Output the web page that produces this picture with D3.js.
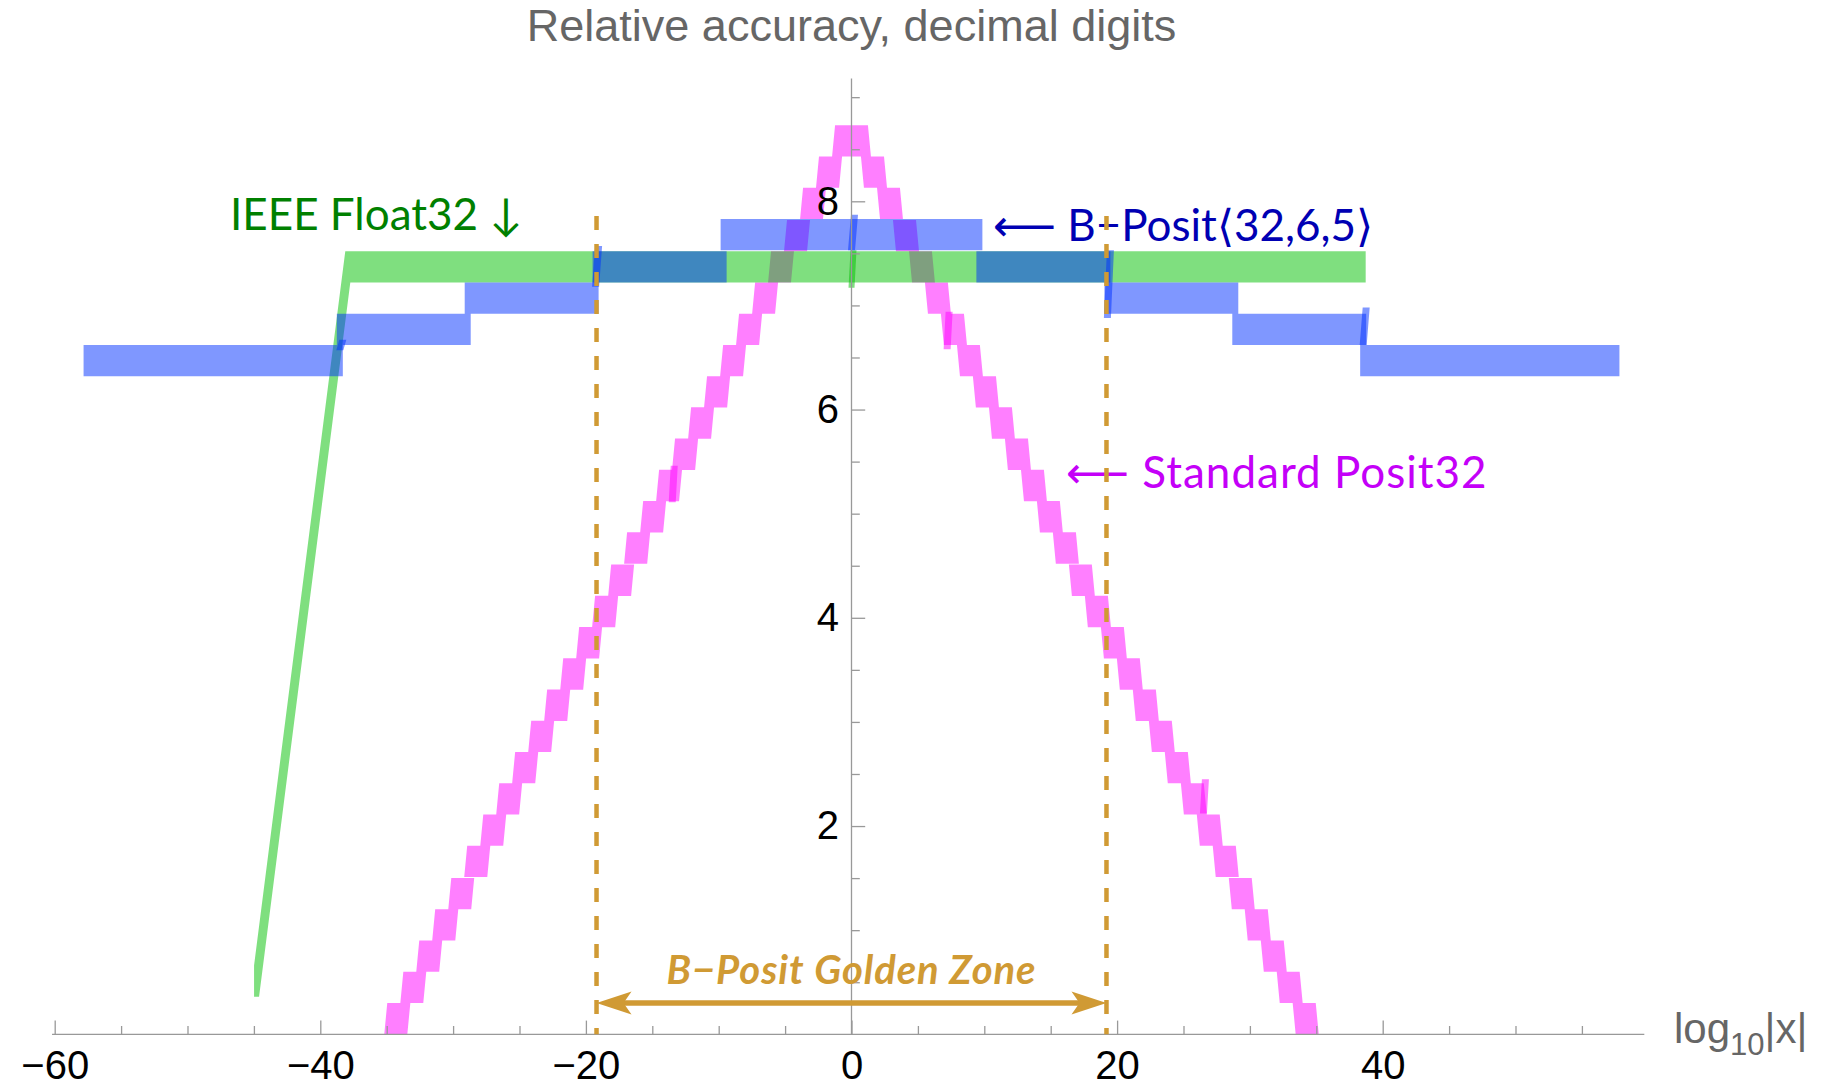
<!DOCTYPE html>
<html>
<head>
<meta charset="utf-8">
<script src="https://cdn.jsdelivr.net/npm/d3@7"></script>
<style>
  body { margin: 0; background: #fff; }
  svg { display: block; }
</style>
</head>
<body>
<svg width="1823" height="1088"></svg>
<script>
// x = log10|x|, y = decimal digits of relative accuracy
// every curve is a band one binade tall (log10 2 digits), given by its lower edge
var bandHeight = 0.301;

// standard posit32, right half (left half mirrors it)
var posit32Edges = [0, 1.2, 2.41, 3.61, 4.82, 6.02, 7.22, 8.43, 9.63, 10.84, 12.04, 13.25, 14.45, 15.65, 16.86,
                    18.06, 19.27, 20.47, 21.67, 22.88, 24.08, 25.29, 26.49, 27.69, 28.9, 30.1, 31.31, 32.51, 33.71, 34.92];
var posit32Levels = [8.43, 8.13, 7.83, 7.52, 7.22, 6.92, 6.62, 6.32, 6.02, 5.72, 5.42, 5.12, 4.82, 4.52, 4.21,
                     3.91, 3.61, 3.31, 3.01, 2.71, 2.41, 2.11, 1.81, 1.51, 1.2, 0.9, 0.6, 0.3, 0.0];
var posit32Spikes = [[-13.5, 5.11, 5.46], [7.2, 6.58, 6.94], [26.5, 2.12, 2.45]];

// b-posit<32,6,5>, right half
var bposit32Edges = [0, 9.63, 19.27, 28.9, 38.53, 57.6];
var bposit32Levels = [7.53, 7.22, 6.92, 6.62, 6.32];
var bposit32Spikes = [[-38.53, 6.57, 6.67], [-19.27, 7.18, 7.57], [0, 7.53, 7.87], [19.27, 6.88, 7.53], [38.53, 6.62, 6.98]];

// ieee float32: subnormal ramp then flat normal range
var float32Knots = [-44.8, -37.93, 38.53];
var float32Lower = [0.36, 7.22, 7.22];
var float32Spikes = [[0, 7.17, 7.53]];

var goldenZone = [-19.2, 19.2];
var goldenTop = 7.86;
var goldenArrowY = 0.3;

var xMajor = [-60, -40, -20, 0, 20, 40];
var xMinor = [-55, -50, -45, -35, -30, -25, -15, -10, -5, 5, 10, 15, 25, 30, 35, 45, 50, 55];
var yMajor = [2, 4, 6, 8];
var yMinor = [0.5, 1, 1.5, 2.5, 3, 3.5, 4.5, 5, 5.5, 6.5, 7, 7.5, 8.5, 9];

var svg = d3.select("svg");
var x = d3.scaleLinear().domain([-60, 40]).range([54.7, 1382.7]);
var y = d3.scaleLinear().domain([0, 8]).range([1034.3, 201.3]);

function stepSegments(edges, levels) {
  var segs = [];
  levels.forEach(function(lv, i) {
    segs.push([edges[i], edges[i + 1], lv, lv]);
    segs.push([-edges[i + 1], -edges[i], lv, lv]);
  });
  return segs;
}

function bandPath(segs, pad, slant) {
  return segs.map(function(s) {
    var sl = slant * ((s[0] + s[1]) / 2 < 0 ? 1 : -1);
    var x0 = x(s[0]), x1 = x(s[1]);
    var pts = [[x0, y(s[2])], [x1, y(s[3])], [x1 + sl, y(s[3] + bandHeight)], [x0 + sl, y(s[2] + bandHeight)]];
    var grown = [];
    pts.forEach(function(p) { grown.push([p[0] - pad, p[1]], [p[0] + pad, p[1]]); });
    return "M" + d3.polygonHull(grown).join("L") + "Z";
  }).join("");
}

function spikePath(list, w, slant) {
  return list.map(function(s) {
    var cx = x(s[0]);
    return "M" + [[cx - w / 2, y(s[1])], [cx + w / 2, y(s[1])], [cx + w / 2 + slant, y(s[2])], [cx - w / 2 + slant, y(s[2])]].join("L") + "Z";
  }).join("");
}

svg.append("clipPath").attr("id", "plot")
  .append("rect").attr("x", 0).attr("y", y(9.3)).attr("width", 1823).attr("height", y(0) - y(9.3));

var series = svg.append("g").attr("clip-path", "url(#plot)");

// pink first, then green, then blue (matches the colour blends in the picture)
series.append("path").attr("d", bandPath(stepSegments(posit32Edges, posit32Levels), 3.5, 3))
  .attr("fill", "#ff00ff").attr("fill-opacity", 0.5);
series.append("path").attr("d", spikePath(posit32Spikes, 7, 2))
  .attr("fill", "#ff00ff").attr("fill-opacity", 0.5);

var floatSegs = [];
for (var i = 0; i < float32Knots.length - 1; i++) {
  floatSegs.push([float32Knots[i], float32Knots[i + 1], float32Lower[i], float32Lower[i + 1]]);
}
series.append("path").attr("d", bandPath(floatSegs, 2.5, 0))
  .attr("fill", "#00c000").attr("fill-opacity", 0.5);
series.append("path").attr("d", spikePath(float32Spikes, 6, 2))
  .attr("fill", "#00c000").attr("fill-opacity", 0.5);

series.append("path").attr("d", bandPath(stepSegments(bposit32Edges, bposit32Levels), 3, 0))
  .attr("fill", "#0030ff").attr("fill-opacity", 0.5);
series.append("path").attr("d", spikePath(bposit32Spikes, 7, 3))
  .attr("fill", "#0030ff").attr("fill-opacity", 0.5);

// axes
var axisColor = "#999999";
svg.append("line")
  .attr("x1", x(-60.2)).attr("x2", x(59.7)).attr("y1", y(0)).attr("y2", y(0))
  .attr("stroke", axisColor).attr("stroke-width", 1.3);
svg.append("line")
  .attr("x1", x(0)).attr("x2", x(0)).attr("y1", y(0)).attr("y2", y(9.18))
  .attr("stroke", axisColor).attr("stroke-width", 1.3);

var gx = svg.append("g").attr("transform", "translate(0," + y(0) + ")")
  .call(d3.axisBottom(x).tickValues(xMajor).tickSizeInner(-13.7).tickSizeOuter(0).tickPadding(16.5));
var gxm = svg.append("g").attr("transform", "translate(0," + y(0) + ")")
  .call(d3.axisBottom(x).tickValues(xMinor).tickSizeInner(-8.3).tickSizeOuter(0).tickFormat(""));
var gy = svg.append("g").attr("transform", "translate(" + x(0) + ",0)")
  .call(d3.axisLeft(y).tickValues(yMajor).tickSizeInner(-13.7).tickSizeOuter(0).tickPadding(12.5));
var gym = svg.append("g").attr("transform", "translate(" + x(0) + ",0)")
  .call(d3.axisLeft(y).tickValues(yMinor).tickSizeInner(-8.3).tickSizeOuter(0).tickFormat(""));

[gx, gxm, gy, gym].forEach(function(g) {
  g.select(".domain").remove();
  g.selectAll("line").attr("stroke", axisColor).attr("stroke-width", 1.3);
  g.attr("font-family", "'Liberation Sans', Arial, sans-serif").attr("font-size", 40);
  g.selectAll("text").attr("fill", "#000");
});

// title and axis label
svg.append("text")
  .attr("x", x(0)).attr("y", 41)
  .attr("text-anchor", "middle")
  .attr("font-family", "'Liberation Sans', Arial, sans-serif").attr("font-size", 45)
  .attr("fill", "#666")
  .text("Relative accuracy, decimal digits");

var xl = svg.append("text")
  .attr("x", 1674).attr("y", 1043)
  .attr("font-family", "'Liberation Sans', Arial, sans-serif").attr("font-size", 42)
  .attr("fill", "#666");
xl.append("tspan").text("log");
xl.append("tspan").attr("font-size", 31).attr("dy", 12).text("10");
xl.append("tspan").attr("dy", -12).text("|x|");

// series labels
var labelFont = "Lato, 'Noto Sans', 'DejaVu Sans', sans-serif";
svg.append("text")
  .attr("x", 230).attr("y", 230)
  .attr("font-family", labelFont).attr("font-size", 44)
  .attr("fill", "#008000")
  .text("IEEE Float32 \u2193");
svg.append("text")
  .attr("x", 993).attr("y", 240.7)
  .attr("font-family", labelFont).attr("font-size", 44)
  .attr("fill", "#0000b3")
  .text("\u27f5 B\u2212Posit\u27e832,6,5\u27e9");
svg.append("text")
  .attr("x", 1066).attr("y", 488.3)
  .attr("font-family", labelFont).attr("font-size", 44)
  .attr("letter-spacing", 1)
  .attr("fill", "#c400f8")
  .text("\u27f5 Standard Posit32");

// golden zone
var gold = "#d09a34";
goldenZone.forEach(function(v) {
  svg.append("line")
    .attr("x1", x(v)).attr("x2", x(v)).attr("y1", y(goldenTop)).attr("y2", y(0))
    .attr("stroke", gold).attr("stroke-width", 4.5).attr("stroke-dasharray", "14 14");
});

var ay = y(goldenArrowY), headLen = 35, headHalf = 11.5, notch = 27;
svg.append("line")
  .attr("x1", x(goldenZone[0]) + notch - 2).attr("x2", x(goldenZone[1]) - notch + 2)
  .attr("y1", ay).attr("y2", ay)
  .attr("stroke", gold).attr("stroke-width", 5.5);
goldenZone.forEach(function(v, i) {
  var tip = x(v), dir = i === 0 ? 1 : -1;
  svg.append("path")
    .attr("d", "M" + [[tip, ay], [tip + dir * headLen, ay - headHalf], [tip + dir * notch, ay], [tip + dir * headLen, ay + headHalf]].join("L") + "Z")
    .attr("fill", gold);
});
svg.append("text")
  .attr("x", x(0)).attr("y", 983.5)
  .attr("text-anchor", "middle")
  .attr("font-family", labelFont).attr("font-size", 40)
  .attr("letter-spacing", 0.9)
  .attr("font-weight", "bold").attr("font-style", "italic")
  .attr("fill", gold)
  .text("B\u2212Posit Golden Zone");
</script>
</body>
</html>
